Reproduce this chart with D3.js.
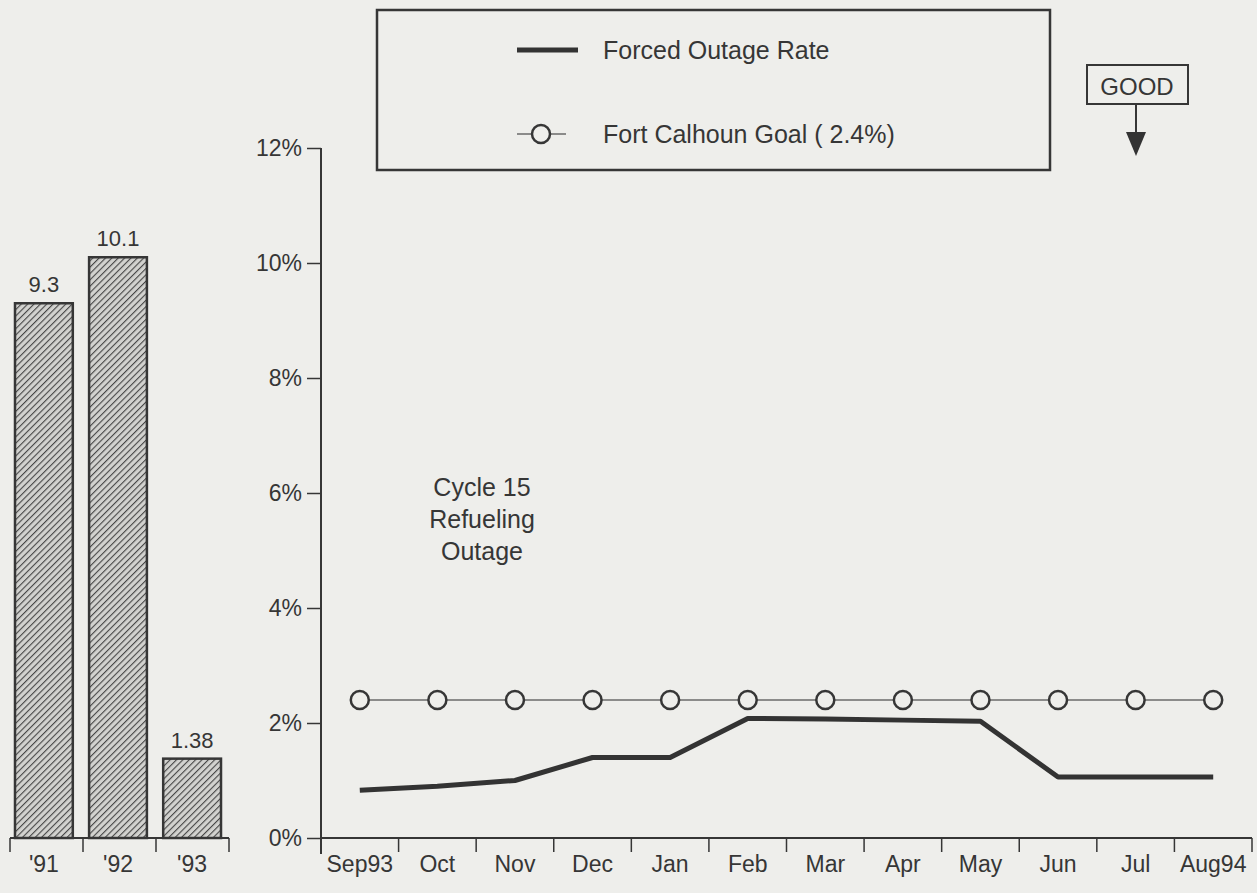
<!DOCTYPE html>
<html><head><meta charset="utf-8">
<script src="https://cdn.jsdelivr.net/npm/d3@7"></script>
<style>
body{margin:0;background:#eeeeeb;}
svg{display:block;}
text{font-family:"Liberation Sans",Arial,sans-serif;fill:#363636;}
</style></head>
<body>
<svg id="c" width="1257" height="893"></svg>
<script>
const yearCats = ["'91","'92","'93"];
const yearVals = [9.3, 10.1, 1.38];
const yearLabels = ["9.3","10.1","1.38"];
const months = ["Sep93","Oct","Nov","Dec","Jan","Feb","Mar","Apr","May","Jun","Jul","Aug94"];
const forcedOutage = [0.83, 0.9, 1.0, 1.4, 1.4, 2.08, 2.07, 2.05, 2.03, 1.06, 1.06, 1.06];
const goal = [2.4,2.4,2.4,2.4,2.4,2.4,2.4,2.4,2.4,2.4,2.4,2.4];
const yTicks = [0,2,4,6,8,10,12];
const legendLabels = ["Forced Outage Rate","Fort Calhoun Goal ( 2.4%)"];
const noteLines = ["Cycle 15","Refueling","Outage"];

const svg = d3.select("#c");
const ink = "#363636";
const y = d3.scaleLinear().domain([0,12]).range([838,148]);

// hatch pattern
const defs = svg.append("defs");
const pat = defs.append("pattern").attr("id","hatch").attr("patternUnits","userSpaceOnUse")
  .attr("width",4.5).attr("height",4.5).attr("patternTransform","rotate(45)");
pat.append("rect").attr("width",4.5).attr("height",4.5).attr("fill","#d2d2cf");
pat.append("line").attr("x1",0).attr("y1",0).attr("x2",0).attr("y2",4.5)
  .attr("stroke","#454545").attr("stroke-width",2.2);

// ---- left bar panel ----
const xb = d3.scaleBand().domain(yearCats).range([15,221]).paddingInner(0.22).paddingOuter(0);
const bp = svg.append("g");
bp.selectAll("rect.bar").data(yearVals).join("rect").attr("class","bar")
  .attr("x",(d,i)=>xb(yearCats[i])).attr("width",xb.bandwidth())
  .attr("y",d=>y(d)).attr("height",d=>y(0)-y(d))
  .attr("fill","url(#hatch)").attr("stroke",ink).attr("stroke-width",2.5);
bp.selectAll("text.val").data(yearVals).join("text").attr("class","val")
  .attr("x",(d,i)=>xb(yearCats[i])+xb.bandwidth()/2).attr("y",d=>y(d)-11)
  .attr("text-anchor","middle").attr("font-size",22).text((d,i)=>yearLabels[i]);
bp.append("line").attr("x1",10).attr("x2",229).attr("y1",y(0)).attr("y2",y(0))
  .attr("stroke",ink).attr("stroke-width",2);
const bStep = 219/3;
bp.selectAll("line.bt").data([0,1,2,3]).join("line").attr("class","bt")
  .attr("x1",d=>10+d*bStep).attr("x2",d=>10+d*bStep).attr("y1",y(0)).attr("y2",y(0)+14)
  .attr("stroke",ink).attr("stroke-width",1.5);
bp.selectAll("text.bl").data(yearCats).join("text").attr("class","bl")
  .attr("x",(d,i)=>xb(d)+xb.bandwidth()/2).attr("y",y(0)+34).attr("text-anchor","middle")
  .attr("font-size",23).text(d=>d);

// ---- main chart ----
const x = d3.scaleBand().domain(months).range([321,1252]);
const g = svg.append("g");
const yAxis = d3.axisLeft(y).tickValues(yTicks).tickFormat(d=>d+"%").tickSize(14).tickPadding(5);
const ya = g.append("g").attr("transform","translate(321,0)").call(yAxis);
ya.select(".domain").remove();
ya.selectAll(".tick line").attr("stroke",ink).attr("stroke-width",1.5);
ya.selectAll(".tick text").attr("font-size",23).attr("fill",ink).attr("font-family","Liberation Sans, Arial, sans-serif");
g.append("line").attr("x1",321).attr("x2",321).attr("y1",y(12)).attr("y2",y(0)+16)
  .attr("stroke",ink).attr("stroke-width",2);
g.append("line").attr("x1",321).attr("x2",1252).attr("y1",y(0)).attr("y2",y(0))
  .attr("stroke",ink).attr("stroke-width",2);
const bounds = months.map(m=>x(m)).slice(1).concat([x.range()[1]]);
g.selectAll("line.xt").data(bounds).join("line").attr("class","xt")
  .attr("x1",d=>d).attr("x2",d=>d).attr("y1",y(0)).attr("y2",y(0)+14)
  .attr("stroke",ink).attr("stroke-width",1.5);
g.selectAll("text.xl").data(months).join("text").attr("class","xl")
  .attr("x",d=>x(d)+x.bandwidth()/2).attr("y",y(0)+34).attr("text-anchor","middle")
  .attr("font-size",23).text(d=>d);

const cx = (d,i)=>x(months[i])+x.bandwidth()/2;
// goal line
g.append("path").datum(goal).attr("d",d3.line().x(cx).y(d=>y(d)))
  .attr("fill","none").attr("stroke","#6a6a6a").attr("stroke-width",1.5);
g.selectAll("circle.goal").data(goal).join("circle").attr("class","goal")
  .attr("cx",cx).attr("cy",d=>y(d)).attr("r",9)
  .attr("fill","#eeeeeb").attr("stroke",ink).attr("stroke-width",2.5);
// forced outage line
g.append("path").datum(forcedOutage).attr("d",d3.line().x(cx).y(d=>y(d)))
  .attr("fill","none").attr("stroke","#333").attr("stroke-width",5).attr("stroke-linejoin","round");

// annotation
g.selectAll("text.note").data(noteLines).join("text").attr("class","note")
  .attr("x",482).attr("y",(d,i)=>496+i*32).attr("text-anchor","middle")
  .attr("font-size",25).text(d=>d);

// legend
const lg = svg.append("g");
lg.append("rect").attr("x",377).attr("y",10).attr("width",673).attr("height",160)
  .attr("fill","none").attr("stroke",ink).attr("stroke-width",2.5);
lg.append("line").attr("x1",517).attr("x2",578).attr("y1",50).attr("y2",50)
  .attr("stroke","#333").attr("stroke-width",5);
lg.append("line").attr("x1",517).attr("x2",566).attr("y1",134).attr("y2",134)
  .attr("stroke","#6a6a6a").attr("stroke-width",1.5);
lg.append("circle").attr("cx",541).attr("cy",134).attr("r",9)
  .attr("fill","#eeeeeb").attr("stroke",ink).attr("stroke-width",2.5);
lg.selectAll("text.lt").data(legendLabels).join("text").attr("class","lt")
  .attr("x",603).attr("y",(d,i)=>59+i*84).attr("font-size",25).text(d=>d);

// GOOD indicator
const gd = svg.append("g");
gd.append("rect").attr("x",1087).attr("y",65).attr("width",101).attr("height",39)
  .attr("fill","none").attr("stroke",ink).attr("stroke-width",2);
gd.append("text").attr("x",1137).attr("y",95).attr("text-anchor","middle")
  .attr("font-size",24).text("GOOD");
gd.append("line").attr("x1",1136).attr("x2",1136).attr("y1",104).attr("y2",135)
  .attr("stroke",ink).attr("stroke-width",2);
gd.append("path").attr("d","M1126,132 L1146,132 L1136,156 Z").attr("fill","#333");
</script>
</body></html>
